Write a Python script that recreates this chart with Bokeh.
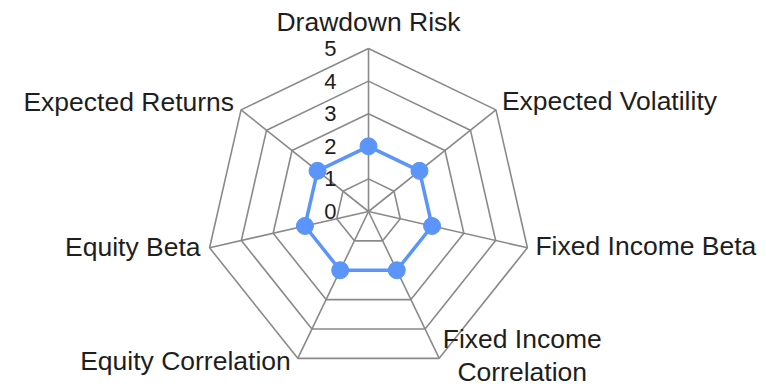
import numpy as np
from bokeh.plotting import figure
from bokeh.models import ColumnDataSource, Range1d
from bokeh.core.properties import value
from bokeh.embed import file_html
from bokeh.resources import INLINE

categories = ["Drawdown Risk", "Expected Volatility", "Fixed Income Beta",
              "Fixed Income\nCorrelation", "Equity Correlation", "Equity Beta",
              "Expected Returns"]
scores = [2, 2, 2, 2, 2, 2, 2]
tick_values = [0, 1, 2, 3, 4, 5]
tick_labels = ["0", "1", "2", "3", "4", "5"]

W, H = 766, 388
PX = 32.6           # pixels per unit
CX, CY = 368, 177   # centre in frame pixels (from left, from bottom)

p = figure(width=W, height=H, output_backend="svg", toolbar_location=None,
           x_range=Range1d(-CX / PX, (W - CX) / PX),
           y_range=Range1d(-CY / PX, (H - CY) / PX),
           min_border=0, outline_line_color=None)
p.axis.visible = False
p.grid.visible = False
p.background_fill_color = "white"

n = len(categories)
ang = np.pi / 2 - 2 * np.pi * np.arange(n) / n
ux, uy = np.cos(ang), np.sin(ang)

grid_col = "#8a8a8a"
rmax = max(tick_values)
# polygon rings
for lv in tick_values[1:]:
    xs = list(ux * lv) + [ux[0] * lv]
    ys = list(uy * lv) + [uy[0] * lv]
    p.line(xs, ys, line_color=grid_col, line_width=1.6)
# spokes
p.multi_line([[0, ux[i] * rmax] for i in range(n)],
             [[0, uy[i] * rmax] for i in range(n)],
             line_color=grid_col, line_width=1.6)

# series
sv = np.array(scores, dtype=float)
blue = "#5b95f9"
p.line(list(ux * sv) + [ux[0] * sv[0]], list(uy * sv) + [uy[0] * sv[0]],
       line_color=blue, line_width=3.5)
p.scatter(ux * sv, uy * sv, size=17, fill_color=blue, line_color=blue)

# tick labels
p.text(x=[0] * len(tick_values), y=tick_values, text=tick_labels,
       x_offset=-32, y_offset=0, text_align="right", text_baseline="middle",
       text_font=value("Liberation Sans"), text_font_size="22px",
       text_color="#1e1e1e")

# category labels
xo = [0, 6, 8, 83, -7, -9, -7]
yo = [-27, -9, -2, -3, 3, -1, -8]
al = ["center", "left", "left", "center", "right", "right", "right"]
src = ColumnDataSource(dict(x=ux * rmax, y=uy * rmax, t=categories,
                            xo=xo, yo=yo, al=al))
p.text(x="x", y="y", text="t", x_offset="xo", y_offset="yo",
       text_align="al", text_baseline="middle", source=src,
       text_font=value("Liberation Sans"), text_font_size="26.5px",
       text_color="#1e1e1e", text_line_height=1.1)

open("out.html", "w").write(file_html(p, INLINE))
